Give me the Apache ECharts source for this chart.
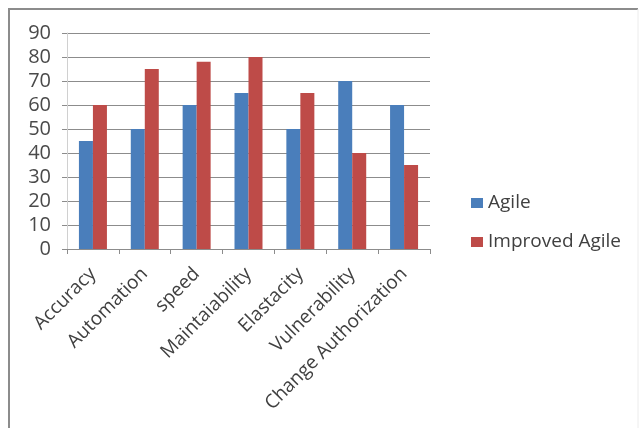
<!DOCTYPE html>
<html>
<head>
<meta charset="utf-8">
<style>
  html, body { margin: 0; padding: 0; background: #fff; }
  #main { width: 644px; height: 428px; }
</style>
<script src="https://cdn.jsdelivr.net/npm/echarts@6/dist/echarts.min.js"></script>
</head>
<body>
<div id="main"></div>
<script>
var categories = ['Accuracy', 'Automation', 'speed', 'Maintaiability', 'Elastacity', 'Vulnerability', 'Change Authorization'];
var agile = [45, 50, 60, 65, 50, 70, 60];
var improvedAgile = [60, 75, 78, 80, 65, 40, 35];
var seriesNames = ['Agile', 'Improved Agile'];

var myChart = echarts.init(document.getElementById('main'));
var font = 'Open Sans';

myChart.setOption({
    animation: false,
    color: ['#4a7ebb', '#be4b48'],
    graphic: [{
        type: 'polyline',
        shape: { points: [[9, 440], [9, 9], [638, 9]] },
        style: { fill: 'none', stroke: '#8c8c8c', lineWidth: 2 }
    }, {
        type: 'line',
        shape: { x1: 638, y1: 9, x2: 638, y2: 440 },
        style: { stroke: '#ececec', lineWidth: 1 }
    }],
    legend: {
        orient: 'vertical',
        left: 466,
        top: 187,
        itemWidth: 12,
        itemHeight: 10,
        itemGap: 17,
        icon: 'rect',
        data: seriesNames,
        textStyle: { fontFamily: font, fontSize: 19, color: '#404040', lineHeight: 22 }
    },
    grid: {
        left: 67,
        right: 214,
        top: 33,
        bottom: 179
    },
    xAxis: {
        type: 'category',
        data: categories,
        axisLine: { lineStyle: { color: '#8c8c8c', width: 1 } },
        axisTick: { show: true, length: 5, lineStyle: { color: '#8c8c8c' } },
        axisLabel: {
            rotate: 45,
            interval: 0,
            margin: 22,
            fontFamily: font,
            fontSize: 19,
            color: '#404040'
        }
    },
    yAxis: {
        type: 'value',
        min: 0,
        max: 90,
        interval: 10,
        axisLine: { show: true, lineStyle: { color: '#d0d0d0' } },
        axisTick: { show: true, length: 5, lineStyle: { color: '#8c8c8c' } },
        splitLine: { lineStyle: { color: '#8c8c8c', width: 1 } },
        axisLabel: {
            margin: 16,
            fontFamily: font,
            fontSize: 20,
            color: '#4a4a4a'
        }
    },
    series: [{
        name: seriesNames[0],
        type: 'bar',
        data: agile,
        barGap: '0%',
        barCategoryGap: '46%'
    }, {
        name: seriesNames[1],
        type: 'bar',
        data: improvedAgile,
        barGap: '0%',
        barCategoryGap: '46%'
    }]
});
</script>
</body>
</html>
